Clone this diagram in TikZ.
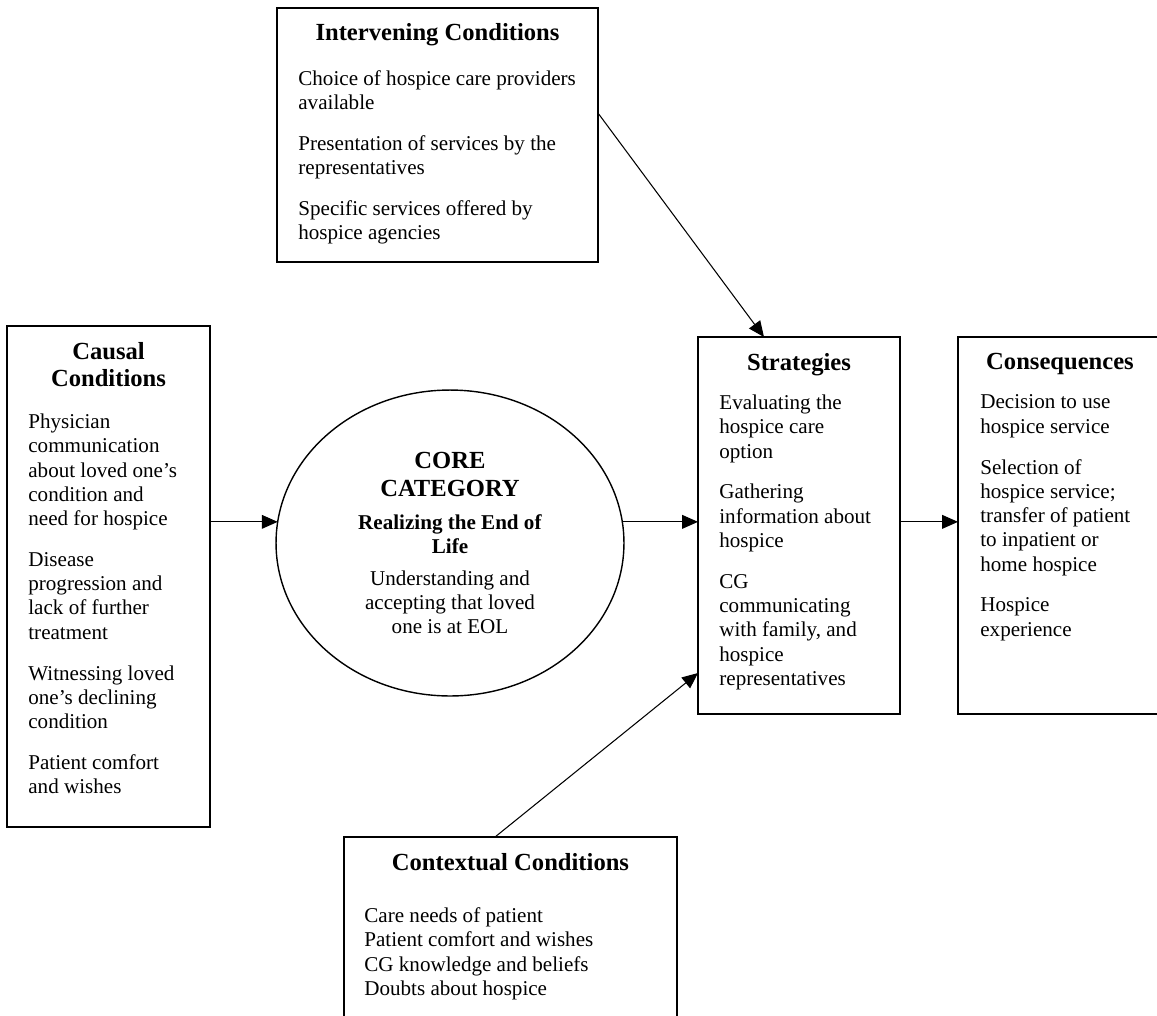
\documentclass[tikz,border=0pt]{standalone}
\usepackage{fontspec}
\setmainfont{Liberation Serif}
\usetikzlibrary{arrows.meta,shapes.geometric}
\newcommand{\hd}{\fontsize{14}{15.3}\selectfont\bfseries}
\newcommand{\bd}{\fontsize{12}{13.8}\selectfont}
\newcommand{\gap}{\\[9.5pt]}

\begin{document}
\begin{tikzpicture}[x=0.02cm,y=-0.02cm,
    frame/.style={draw,line width=1pt,inner sep=0,outer sep=0},
    head/.style={anchor=north,inner sep=0,align=center,font=\hd},
    body/.style={anchor=north west,inner sep=0,align=left,font=\bd},
    arr/.style={-{Triangle[length=9pt,width=7.8pt]},line width=0.6pt}]
    \useasboundingbox (0,0) rectangle (1157,1015);
    \clip (0,0) rectangle (1157,1015);

    % boxes
    \node[frame,minimum width=6.42cm,minimum height=5.08cm] (interv) at (437.5,135) {};
    \node[frame,minimum width=4.06cm,minimum height=10.02cm] (causal) at (108.5,576.5) {};
    \node[frame,minimum width=4.04cm,minimum height=7.54cm] (strat) at (799,525.5) {};
    \node[frame,minimum width=4.4cm,minimum height=7.54cm] (conseq) at (1068,525.5) {};
    \node[frame,minimum width=6.66cm,minimum height=3.8cm] (context) at (510.5,932) {};
    \node[draw,ellipse,line width=0.8pt,inner sep=0,outer sep=0,minimum width=6.96cm,minimum height=6.12cm,align=center,font=\bd] (core) at (450,543)
        {{\hd CORE}\\[2pt]{\hd CATEGORY}\\[4.9pt]\textbf{Realizing the End of}\\\textbf{Life}\\[4.3pt]Understanding and\\accepting that loved\\one is at EOL};

    % headings and texts
    \node[head] (interv-hd) at ([shift={(0,15)}]interv.north) {Intervening Conditions};
    \node[body] (interv-txt) at ([shift={(21,62)}]interv.north west)
        {Choice of hospice care providers\\available\gap Presentation of services by the\\representatives\gap Specific services offered by\\hospice agencies};
    \node[head] (causal-hd) at ([shift={(0,16.5)}]causal.north) {Causal\\Conditions};
    \node[body] (causal-txt) at ([shift={(21,87.5)}]causal.north west)
        {Physician\\communication\\about loved one's\\condition and\\need for hospice\gap Disease\\progression and\\lack of further\\treatment\gap Witnessing loved\\one's declining\\condition\gap Patient comfort\\and wishes};
    \node[head] (strat-hd) at ([shift={(0,15.7)}]strat.north) {Strategies};
    \node[body] (strat-txt) at ([shift={(21,57.5)}]strat.north west)
        {Evaluating the\\hospice care\\option\gap Gathering\\information about\\hospice\gap CG\\communicating\\with family, and\\hospice\\representatives};
    \node[head] (conseq-hd) at ([shift={(-8,15.7)}]conseq.north) {Consequences};
    \node[body] (conseq-txt) at ([shift={(22,57.5)}]conseq.north west)
        {Decision to use\\hospice service\gap Selection of\\hospice service;\\transfer of patient\\to inpatient or\\home hospice\gap Hospice\\experience};
    \node[head] (context-hd) at ([shift={(0,16.5)}]context.north) {Contextual Conditions};
    \node[body] (context-txt) at ([shift={(20,70.5)}]context.north west)
        {Care needs of patient\\Patient comfort and wishes\\CG knowledge and beliefs\\Doubts about hospice};

    % arrows
    \path[arr]
    (causal.east |- core.173) edge (core.173)
    (core.7) edge (strat.west |- core.7)
    (strat.east |- core.7) edge (conseq.west |- core.7)
    ([shift={(0,-22)}]interv.east) edge ([shift={(-35,0)}]strat.north)
    ([shift={(-15.5,0)}]context.north) edge ([shift={(0,147.5)}]strat.west);

\end{tikzpicture}
\end{document}
